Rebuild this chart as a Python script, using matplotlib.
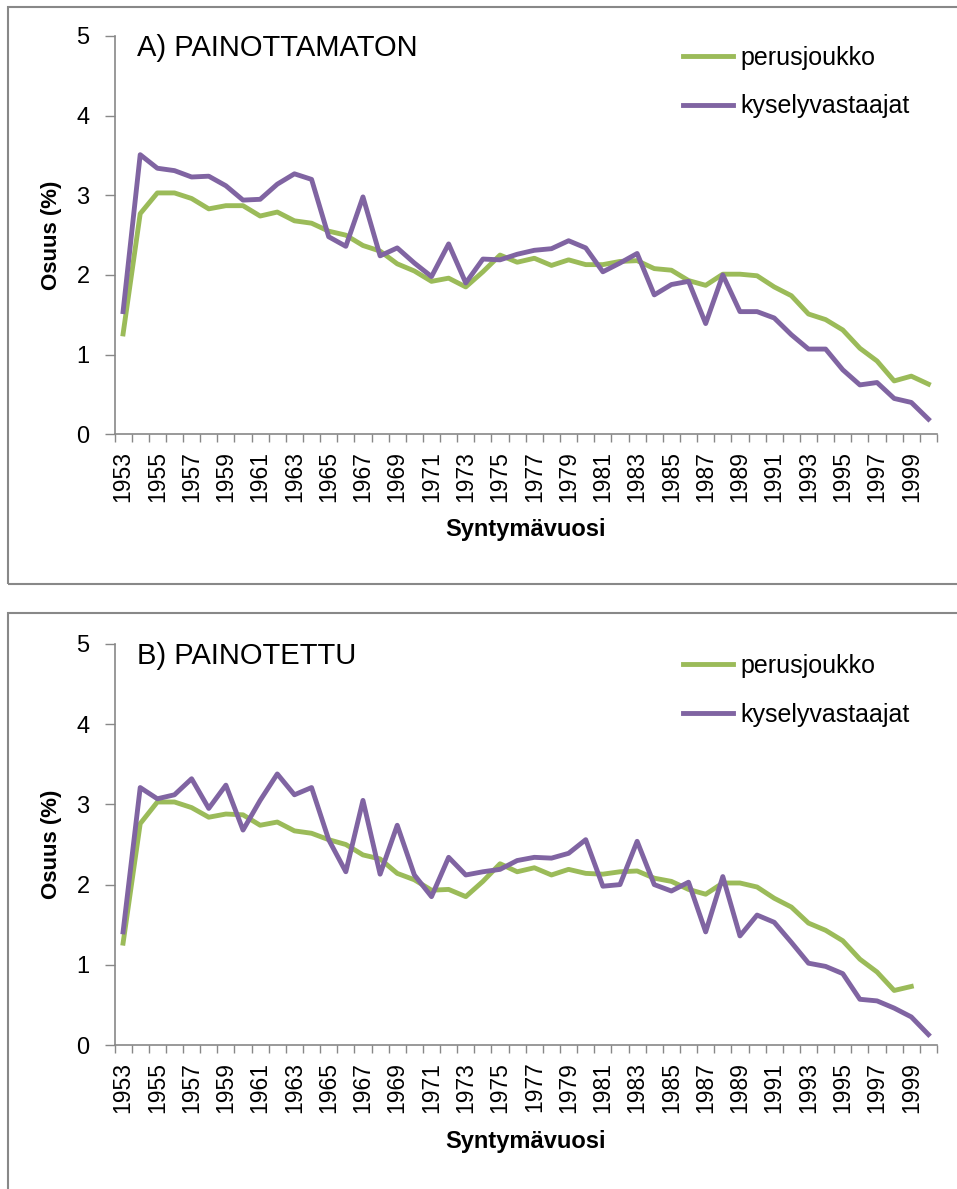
import numpy as np
import matplotlib.pyplot as plt
from matplotlib.patches import Rectangle

plt.rcParams['font.family'] = ['Liberation Sans', 'DejaVu Sans']

years = list(range(1953, 2001))

# A) unweighted
perus_a = [1.26, 2.77, 3.03, 3.03, 2.96, 2.83, 2.87, 2.87, 2.74, 2.79,
           2.68, 2.65, 2.55, 2.50, 2.37, 2.30, 2.14, 2.05, 1.92, 1.96,
           1.85, 2.04, 2.25, 2.16, 2.21, 2.12, 2.19, 2.13, 2.13, 2.17,
           2.18, 2.08, 2.06, 1.93, 1.87, 2.01, 2.01, 1.99, 1.85, 1.74,
           1.51, 1.44, 1.31, 1.08, 0.92, 0.67, 0.73, 0.63]
kysely_a = [1.54, 3.51, 3.34, 3.31, 3.23, 3.24, 3.12, 2.94, 2.95, 3.14,
            3.27, 3.20, 2.48, 2.36, 2.98, 2.24, 2.34, 2.15, 1.98, 2.39,
            1.90, 2.20, 2.19, 2.26, 2.31, 2.33, 2.43, 2.34, 2.04, 2.15,
            2.27, 1.75, 1.88, 1.92, 1.39, 2.00, 1.54, 1.54, 1.46, 1.25,
            1.07, 1.07, 0.81, 0.62, 0.65, 0.45, 0.40, 0.19]

# B) weighted (perusjoukko ends at 1999)
perus_b = [1.27, 2.76, 3.03, 3.03, 2.96, 2.84, 2.88, 2.87, 2.74, 2.78,
           2.67, 2.64, 2.56, 2.50, 2.37, 2.32, 2.14, 2.06, 1.93, 1.94,
           1.85, 2.04, 2.26, 2.16, 2.21, 2.12, 2.19, 2.14, 2.13, 2.16,
           2.17, 2.08, 2.04, 1.94, 1.88, 2.02, 2.02, 1.97, 1.83, 1.72,
           1.52, 1.43, 1.30, 1.07, 0.91, 0.68, 0.73, np.nan]
kysely_b = [1.41, 3.21, 3.07, 3.12, 3.32, 2.95, 3.24, 2.68, 3.05, 3.38,
            3.12, 3.21, 2.56, 2.16, 3.05, 2.13, 2.74, 2.12, 1.85, 2.34,
            2.12, 2.16, 2.19, 2.30, 2.34, 2.33, 2.39, 2.56, 1.98, 2.00,
            2.54, 2.00, 1.92, 2.03, 1.41, 2.10, 1.36, 1.62, 1.53, 1.28,
            1.02, 0.98, 0.89, 0.57, 0.55, 0.46, 0.35, 0.13]

titles = ['A) PAINOTTAMATON', 'B) PAINOTETTU']
series_names = ['perusjoukko', 'kyselyvastaajat']
green = '#9BBB59'
purple = '#8064A2'
gray = '#888888'

W, H = 957, 1189
fig = plt.figure(figsize=(W / 100, H / 100), dpi=100)

# panel frames
fig.patches.append(Rectangle((8 / W, 1 - 584 / H), 1.1, (584 - 7) / H,
                             transform=fig.transFigure, fill=False,
                             edgecolor=gray, linewidth=1.5))
fig.patches.append(Rectangle((8 / W, -0.05), 1.1, 0.05 + 1 - 613 / H,
                             transform=fig.transFigure, fill=False,
                             edgecolor=gray, linewidth=1.5))

x = np.arange(len(years))
panels = [(perus_a, kysely_a, 434.3, 36), (perus_b, kysely_b, 1045, 644)]

for k, (p, q, y0, y5) in enumerate(panels):
    ax = fig.add_axes([114.5 / W, 1 - y0 / H, (937 - 114.5) / W, (y0 - y5) / H])
    ax.plot(x, p, color=green, lw=3.5, label=series_names[0])
    ax.plot(x, q, color=purple, lw=3.5, label=series_names[1])
    ax.set_xlim(-0.5, len(years) - 0.5)
    ax.set_ylim(0, 5)
    ax.set_yticks([0, 1, 2, 3, 4, 5])
    ax.tick_params(axis='y', length=7, width=1, color=gray, pad=11, labelsize=17)
    # tick marks at category boundaries, labels every other year
    ax.set_xticks(np.arange(-0.5, len(years)), [])
    ax.tick_params(axis='x', which='major', length=6, width=1, color=gray)
    ax.set_xticks(x[::2], [str(y) for y in years[::2]], minor=True)
    ax.tick_params(axis='x', which='minor', length=0, pad=12, labelsize=16.5,
                   labelrotation=90)
    for s in ['top', 'right']:
        ax.spines[s].set_visible(False)
    for s in ['left', 'bottom']:
        ax.spines[s].set_color(gray)
        ax.spines[s].set_linewidth(1.2)
    ax.text(0.027, 0.97, titles[k], transform=ax.transAxes, fontsize=21,
            va='center', ha='left')
    ax.text(-0.076, 0.5, 'Osuus (%)', transform=ax.transAxes, fontsize=16,
            fontweight='bold', rotation=90, va='center', ha='center')
    ax.text(0.5, -0.24, 'Syntymävuosi', transform=ax.transAxes, fontsize=17,
            fontweight='bold', va='center', ha='center')
    ax.legend(loc='upper left', bbox_to_anchor=(0.691, 0.975), frameon=False,
              fontsize=18, handlelength=2.0, handletextpad=0.3,
              labelspacing=0.98, borderpad=0, borderaxespad=0)

fig.savefig('out.png', dpi=100)
